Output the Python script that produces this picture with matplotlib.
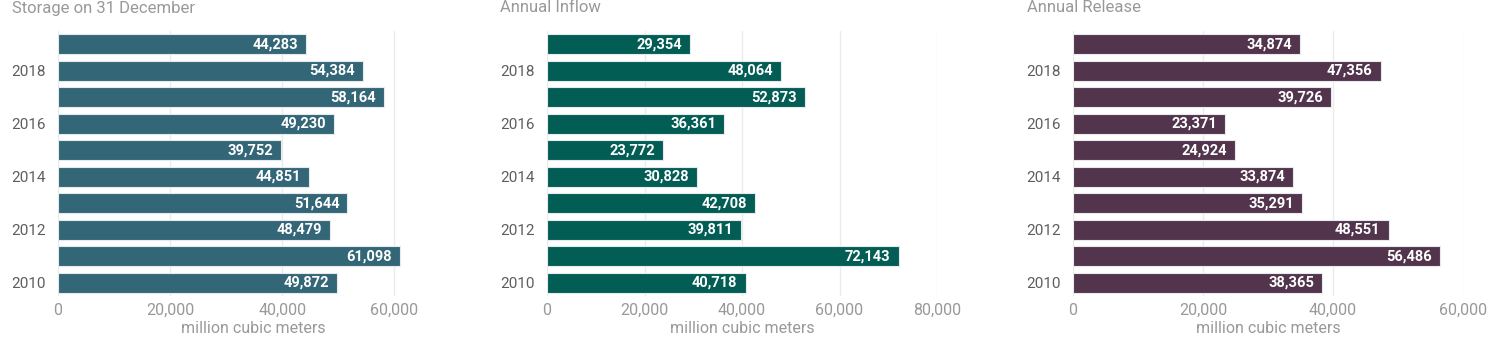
import matplotlib
matplotlib.use("Agg")
import matplotlib.pyplot as plt
from matplotlib.ticker import FuncFormatter

plt.rcParams["font.family"] = ["Roboto", "DejaVu Sans"]

# --- Data (million cubic meters) ---
years = [2010, 2011, 2012, 2013, 2014, 2015, 2016, 2017, 2018, 2019]
storage = [49872, 61098, 48479, 51644, 44851, 39752, 49230, 58164, 54384, 44283]
inflow = [40718, 72143, 39811, 42708, 30828, 23772, 36361, 52873, 48064, 29354]
release = [38365, 56486, 48551, 35291, 33874, 24924, 23371, 39726, 47356, 34874]

titles = ["Storage on 31 December", "Annual Inflow", "Annual Release"]
series = [storage, inflow, release]
colors = ["#336676", "#025E55", "#52354D"]
xmax = [69600, 80000, 60000]
xticks = [[0, 20000, 40000, 60000],
          [0, 20000, 40000, 60000, 80000],
          [0, 20000, 40000, 60000]]

# --- Layout (pixels -> figure fractions) ---
W, H = 1507, 344
fig = plt.figure(figsize=(W / 100, H / 100), dpi=100)
lefts = [58, 547, 1073]
title_x = [12, 500, 1027]
ax_w = 390
ax_top, ax_bot = 31, 296

fmt = FuncFormatter(lambda v, p: f"{v:,.0f}")

for i in range(3):
    ax = fig.add_axes([lefts[i] / W, 1 - ax_bot / H, ax_w / W, (ax_bot - ax_top) / H])
    vals = series[i]
    ax.barh(years, vals, height=0.76, color=colors[i],
            edgecolor="#e6eaec", linewidth=0.8, zorder=3)
    for y, v in zip(years, vals):
        ax.annotate(f"{v:,}", xy=(v, y), xytext=(-8, 0), textcoords="offset pixels",
                    ha="right", va="center", color="white", fontsize=10.5,
                    fontweight="bold", zorder=4)

    ax.set_xlim(0, xmax[i])
    ax.set_ylim(2009.5, 2019.5)
    ax.set_xticks(xticks[i])
    ax.xaxis.set_major_formatter(fmt)
    ax.set_yticks([2010, 2012, 2014, 2016, 2018])
    ax.set_yticklabels(["2010", "2012", "2014", "2016", "2018"])

    ax.grid(axis="x", color="#ebebeb", linewidth=1, zorder=0)
    ax.grid(axis="y", visible=False)
    for s in ax.spines.values():
        s.set_visible(False)
    ax.tick_params(axis="both", length=0)
    ax.tick_params(axis="y", labelsize=11, labelcolor="#605E5C", pad=9)
    ax.tick_params(axis="x", labelsize=11.5, labelcolor="#999999", pad=5)
    ax.set_xlabel("million cubic meters", fontsize=11.5, color="#999999", labelpad=2)

    fig.text(title_x[i] / W, 1 - 8 / H, titles[i], fontsize=12, color="#999999",
             ha="left", va="center")

fig.savefig("out.png", dpi=100, facecolor="white")
